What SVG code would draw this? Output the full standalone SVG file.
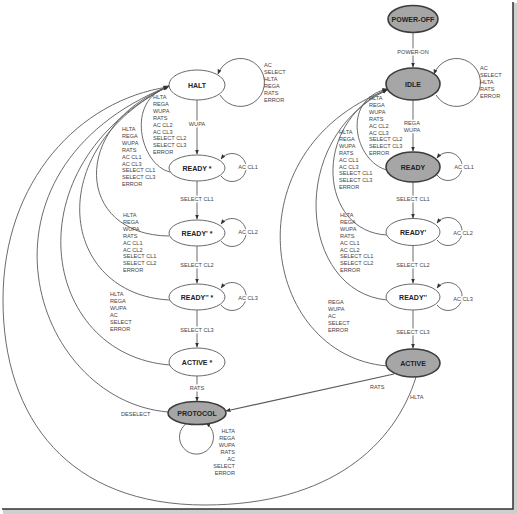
<svg xmlns="http://www.w3.org/2000/svg" width="517" height="514" viewBox="0 0 517 514">
<style>
.n{fill:#fff;stroke:#6a6a6a;stroke-width:1}
.g{fill:#a6a6a6;stroke:#3c3c3c;stroke-width:1.6}
.nt{font-family:"Liberation Sans",Arial,sans-serif;font-size:7px;font-weight:bold;fill:#222;text-anchor:middle}
.t{font-family:"Liberation Sans",Arial,sans-serif;font-size:5.6px;fill:#444}
.m{text-anchor:middle}
.e{text-anchor:end}
.h{stroke:#fff;stroke-width:3;paint-order:stroke;stroke-linejoin:round}
.c{fill:none;stroke:#5a5a5a;stroke-width:0.9;marker-end:url(#ah)}
</style>
<defs>
<marker id="ah" viewBox="0 0 10 10" refX="9" refY="5" markerWidth="5" markerHeight="5" orient="auto" markerUnits="userSpaceOnUse"><path d="M0,1 L10,5 L0,9 z" fill="#333"/></marker>
</defs>
<rect x="3" y="3" width="514" height="511" fill="#cfcfcf"/>
<rect x="0" y="0" width="513" height="509" fill="#fff"/>
<path d="M513 2 V509 H2" stroke="#333" stroke-width="1.5" fill="none"/>

<g id="connectors">
<!-- left column verticals -->
<path class="c" d="M197 100 V154"/>
<path class="c" d="M197 181 V219"/>
<path class="c" d="M197 246 V283"/>
<path class="c" d="M197 310 V347"/>
<path class="c" d="M197 376 V401"/>
<!-- right column verticals -->
<path class="c" d="M413 33 V67"/>
<path class="c" d="M413 100 V151"/>
<path class="c" d="M413 182 V218"/>
<path class="c" d="M413 246 V283"/>
<path class="c" d="M413 310 V348"/>
<!-- self loops -->
<path class="c" d="M220 95 A24 24 0 1 0 218 74"/>
<path class="c" d="M221 176 A14 14 0 1 0 221 159"/>
<path class="c" d="M221 241 A14 14 0 1 0 221 224"/>
<path class="c" d="M221 305 A14 14 0 1 0 221 288"/>
<path class="c" d="M187 423 A17 17 0 1 0 206 423"/>
<path class="c" d="M436 95 A24 24 0 1 0 434 74"/>
<path class="c" d="M437 175 A14 14 0 1 0 437 158"/>
<path class="c" d="M437 240 A14 14 0 1 0 437 223"/>
<path class="c" d="M437 305 A14 14 0 1 0 437 288"/>
<!-- left arcs to HALT -->
<path class="c" d="M170 172 C140 165 125 100 168 87"/>
<path class="c" d="M169 236 C75 235 70 125 168 87"/>
<path class="c" d="M170 300 C60 295 40 150 169 86"/>
<path class="c" d="M170 365 C40 355 10 165 169 86"/>
<path class="c" d="M168 412 C30 400 -40 170 169 86"/>
<path class="c" d="M416 377 C395 445 330 505 205 505 C70 505 3 420 3 300 C3 180 80 100 168 87"/>
<!-- right arcs to IDLE -->
<path class="c" d="M387 170 C355 162 340 100 387 89"/>
<path class="c" d="M387 235 C320 232 310 125 387 89"/>
<path class="c" d="M387 300 C300 292 285 140 387 90"/>
<path class="c" d="M387 366 C260 355 230 150 387 90"/>
<!-- RATS to PROTOCOL -->
<path class="c" d="M394 374 L226 411" style="stroke-width:1.2"/>
</g>

<g id="edge-labels">
<text class="t m h" x="197" y="126">WUPA</text>
<text class="t m h" x="197" y="201">SELECT CL1</text>
<text class="t m h" x="197" y="267">SELECT CL2</text>
<text class="t m h" x="197" y="332">SELECT CL3</text>
<text class="t m h" x="197" y="390">RATS</text>
<text class="t m h" x="413" y="54">POWER-ON</text>
<text class="t m h" x="412" y="125">REGA</text>
<text class="t m h" x="412" y="132">WUPA</text>
<text class="t m h" x="413" y="201">SELECT CL1</text>
<text class="t m h" x="413" y="267">SELECT CL2</text>
<text class="t m h" x="413" y="334">SELECT CL3</text>
<text class="t m h" x="248" y="169">AC CL1</text>
<text class="t m h" x="248" y="234">AC CL2</text>
<text class="t m h" x="248" y="300">AC CL3</text>
<text class="t m h" x="464" y="169">AC CL1</text>
<text class="t m h" x="463" y="235">AC CL2</text>
<text class="t m h" x="463" y="301">AC CL3</text>
<text class="t h" x="370" y="389">RATS</text>
<text class="t" x="410" y="399">HLTA</text>
<text class="t" x="121" y="416">DESELECT</text>
<text class="t" x="264"><tspan x="264" y="67">AC</tspan><tspan x="264" y="73.9">SELECT</tspan><tspan x="264" y="80.8">HLTA</tspan><tspan x="264" y="87.7">REGA</tspan><tspan x="264" y="94.6">RATS</tspan><tspan x="264" y="101.5">ERROR</tspan></text>
<text class="t" x="480"><tspan x="480" y="70">AC</tspan><tspan x="480" y="76.9">SELECT</tspan><tspan x="480" y="83.8">HLTA</tspan><tspan x="480" y="90.7">RATS</tspan><tspan x="480" y="97.6">ERROR</tspan></text>
<text class="t e" x="235"><tspan x="235" y="433">HLTA</tspan><tspan x="235" y="440">REGA</tspan><tspan x="235" y="447">WUPA</tspan><tspan x="235" y="454">RATS</tspan><tspan x="235" y="461">AC</tspan><tspan x="235" y="468">SELECT</tspan><tspan x="235" y="475">ERROR</tspan></text>
<text class="t" x="153"><tspan x="153" y="99">HLTA</tspan><tspan x="153" y="105.9">REGA</tspan><tspan x="153" y="112.8">WUPA</tspan><tspan x="153" y="119.7">RATS</tspan><tspan x="153" y="126.6">AC CL2</tspan><tspan x="153" y="133.5">AC CL3</tspan><tspan x="153" y="140.4">SELECT CL2</tspan><tspan x="153" y="147.3">SELECT CL3</tspan><tspan x="153" y="154.2">ERROR</tspan></text>
<text class="t" x="122"><tspan x="122" y="131">HLTA</tspan><tspan x="122" y="137.9">REGA</tspan><tspan x="122" y="144.8">WUPA</tspan><tspan x="122" y="151.7">RATS</tspan><tspan x="122" y="158.6">AC CL1</tspan><tspan x="122" y="165.5">AC CL3</tspan><tspan x="122" y="172.4">SELECT CL1</tspan><tspan x="122" y="179.3">SELECT CL3</tspan><tspan x="122" y="186.2">ERROR</tspan></text>
<text class="t" x="123"><tspan x="123" y="217">HLTA</tspan><tspan x="123" y="223.9">REGA</tspan><tspan x="123" y="230.8">WUPA</tspan><tspan x="123" y="237.7">RATS</tspan><tspan x="123" y="244.6">AC CL1</tspan><tspan x="123" y="251.5">AC CL2</tspan><tspan x="123" y="258.4">SELECT CL1</tspan><tspan x="123" y="265.3">SELECT CL2</tspan><tspan x="123" y="272.2">ERROR</tspan></text>
<text class="t" x="110"><tspan x="110" y="296">HLTA</tspan><tspan x="110" y="302.9">REGA</tspan><tspan x="110" y="309.8">WUPA</tspan><tspan x="110" y="316.7">AC</tspan><tspan x="110" y="323.6">SELECT</tspan><tspan x="110" y="330.5">ERROR</tspan></text>
<text class="t" x="369"><tspan x="369" y="100">HLTA</tspan><tspan x="369" y="106.9">REGA</tspan><tspan x="369" y="113.8">WUPA</tspan><tspan x="369" y="120.7">RATS</tspan><tspan x="369" y="127.6">AC CL2</tspan><tspan x="369" y="134.5">AC CL3</tspan><tspan x="369" y="141.4">SELECT CL2</tspan><tspan x="369" y="148.3">SELECT CL3</tspan><tspan x="369" y="155.2">ERROR</tspan></text>
<text class="t" x="339"><tspan x="339" y="134">HLTA</tspan><tspan x="339" y="140.9">REGA</tspan><tspan x="339" y="147.8">WUPA</tspan><tspan x="339" y="154.7">RATS</tspan><tspan x="339" y="161.6">AC CL1</tspan><tspan x="339" y="168.5">AC CL3</tspan><tspan x="339" y="175.4">SELECT CL1</tspan><tspan x="339" y="182.3">SELECT CL3</tspan><tspan x="339" y="189.2">ERROR</tspan></text>
<text class="t" x="340"><tspan x="340" y="217">HLTA</tspan><tspan x="340" y="223.9">REGA</tspan><tspan x="340" y="230.8">WUPA</tspan><tspan x="340" y="237.7">RATS</tspan><tspan x="340" y="244.6">AC CL1</tspan><tspan x="340" y="251.5">AC CL2</tspan><tspan x="340" y="258.4">SELECT CL1</tspan><tspan x="340" y="265.3">SELECT CL2</tspan><tspan x="340" y="272.2">ERROR</tspan></text>
<text class="t" x="328"><tspan x="328" y="304">REGA</tspan><tspan x="328" y="310.9">WUPA</tspan><tspan x="328" y="317.8">AC</tspan><tspan x="328" y="324.7">SELECT</tspan><tspan x="328" y="331.6">ERROR</tspan></text>
</g>

<g id="halt"><ellipse class="n" cx="197" cy="85" rx="28" ry="15"/><text class="nt" x="197" y="87.5">HALT</text></g>
<g id="ready-star"><ellipse class="n" cx="197" cy="168" rx="28" ry="13"/><text class="nt" x="197" y="170.5">READY *</text></g>
<g id="ready1-star"><ellipse class="n" cx="197" cy="233" rx="28" ry="13"/><text class="nt" x="197" y="235.5">READY' *</text></g>
<g id="ready2-star"><ellipse class="n" cx="197" cy="297" rx="28" ry="13"/><text class="nt" x="197" y="299.5">READY'' *</text></g>
<g id="active-star"><ellipse class="n" cx="197" cy="362" rx="28" ry="14"/><text class="nt" x="197" y="364.5">ACTIVE *</text></g>
<g id="protocol"><ellipse class="g" cx="197" cy="413" rx="29" ry="11.5"/><text class="nt" x="197" y="415.5">PROTOCOL</text></g>
<g id="power-off"><ellipse class="g" cx="413" cy="19" rx="25" ry="13.5"/><text class="nt" x="413" y="21.5">POWER-OFF</text></g>
<g id="idle"><ellipse class="g" cx="413" cy="84" rx="27" ry="16"/><text class="nt" x="413" y="86.5">IDLE</text></g>
<g id="ready"><ellipse class="g" cx="413" cy="167" rx="27" ry="15"/><text class="nt" x="413" y="169.5">READY</text></g>
<g id="ready1"><ellipse class="n" cx="413" cy="232" rx="27" ry="13.5"/><text class="nt" x="413" y="234.5">READY'</text></g>
<g id="ready2"><ellipse class="n" cx="413" cy="297" rx="27" ry="13"/><text class="nt" x="413" y="299.5">READY''</text></g>
<g id="active"><ellipse class="g" cx="413" cy="363" rx="27" ry="14"/><text class="nt" x="413" y="365.5">ACTIVE</text></g>
</svg>
